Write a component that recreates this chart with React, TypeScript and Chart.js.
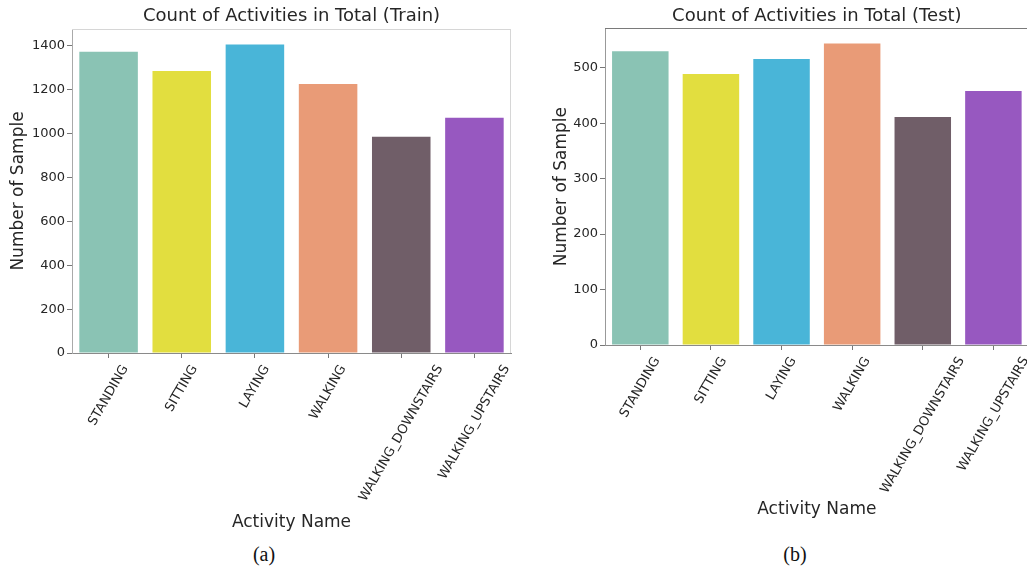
import React, { useEffect, useRef } from "react";
import { Chart, registerables } from "chart.js";

Chart.register(...registerables);

const categories = [
  "STANDING",
  "SITTING",
  "LAYING",
  "WALKING",
  "WALKING_DOWNSTAIRS",
  "WALKING_UPSTAIRS",
];
const trainCounts = [1374, 1286, 1407, 1226, 986, 1073];
const testCounts = [530, 489, 516, 544, 411, 458];
const barColors = ["#8AC3B4", "#E2DE3F", "#49B5D8", "#E99B77", "#705E68", "#9758C0"];
const trainTitle = "Count of Activities in Total (Train)";
const testTitle = "Count of Activities in Total (Test)";
const xAxisLabel = "Activity Name";
const yAxisLabel = "Number of Sample";
const trainTickStep = 200;
const testTickStep = 100;
const captions = ["(a)", "(b)"];

const FONT = "'DejaVu Sans', sans-serif";
const TEXT = "#262626";

type PanelCfg = {
  left: number;
  width: number;
  height: number;
  values: number[];
  title: string;
  step: number;
  yWidth: number;
  xHeight: number;
  padRight: number;
  titlePadTop: number;
  titlePadBottom: number;
  yTitlePad: number;
  xTitlePad: number;
  topColor: string;
  rightColor: string;
  leftColor: string;
  bottomColor: string;
};

const extrasPlugin = {
  id: "panelExtras",
  afterDraw(chart: any, _args: any, opts: any) {
    const { ctx, chartArea, scales } = chart;
    const xs = scales.x;
    ctx.save();
    // top and right spines
    ctx.lineWidth = 1;
    ctx.strokeStyle = opts.topColor;
    const t = Math.round(chartArea.top) + 0.5;
    const r = Math.round(chartArea.right) - 0.5;
    ctx.beginPath();
    ctx.moveTo(chartArea.left, t);
    ctx.lineTo(chartArea.right, t);
    ctx.stroke();
    ctx.strokeStyle = opts.rightColor;
    ctx.beginPath();
    ctx.moveTo(r, chartArea.top);
    ctx.lineTo(r, chartArea.bottom);
    ctx.stroke();
    // rotated category labels (centered like matplotlib)
    ctx.font = "13px " + FONT;
    ctx.fillStyle = TEXT;
    const ang = (60 * Math.PI) / 180;
    const h = 13 * 1.15;
    const y0 = chartArea.bottom + 9.5;
    const labels: string[] = chart.data.labels;
    labels.forEach((lab, i) => {
      const x = xs.getPixelForValue(i);
      const L = ctx.measureText(lab).width;
      const bh = L * Math.sin(ang) + h * Math.cos(ang);
      ctx.save();
      ctx.translate(x, y0 + bh / 2);
      ctx.rotate(-ang);
      ctx.textAlign = "center";
      ctx.textBaseline = "middle";
      ctx.fillText(lab, 0, 0);
      ctx.restore();
    });
    ctx.restore();
  },
};

function Panel({ cfg }: { cfg: PanelCfg }) {
  const ref = useRef<HTMLCanvasElement>(null);
  useEffect(() => {
    const yMax = Math.max(...cfg.values) * 1.05;
    const chart = new Chart(ref.current as HTMLCanvasElement, {
      type: "bar",
      data: {
        labels: categories,
        datasets: [
          {
            data: cfg.values,
            backgroundColor: barColors,
            borderWidth: 0,
            barPercentage: 0.8,
            categoryPercentage: 1,
          },
        ],
      },
      plugins: [extrasPlugin],
      options: {
        animation: false,
        responsive: false,
        maintainAspectRatio: false,
        devicePixelRatio: 1,
        layout: { padding: { left: 0, top: 0, bottom: 0, right: cfg.padRight } },
        plugins: {
          legend: { display: false },
          tooltip: { enabled: false },
          title: {
            display: true,
            text: cfg.title,
            fullSize: false,
            color: TEXT,
            font: { family: FONT, size: 18, weight: "normal" },
            padding: { top: cfg.titlePadTop, bottom: cfg.titlePadBottom },
          },
          panelExtras: {
            topColor: cfg.topColor,
            rightColor: cfg.rightColor,
          },
        } as any,
        scales: {
          x: {
            type: "category",
            offset: true,
            grid: {
              offset: false,
              display: true,
              drawOnChartArea: false,
              drawTicks: true,
              tickLength: 5,
              color: "#777",
            },
            border: { display: true, color: cfg.bottomColor, width: 1 },
            ticks: { display: false },
            title: {
              display: true,
              text: xAxisLabel,
              color: TEXT,
              font: { family: FONT, size: 17, weight: "normal" },
              padding: { top: 0, bottom: cfg.xTitlePad },
            },
            afterFit: (scale: any) => {
              scale.height = cfg.xHeight;
            },
          },
          y: {
            type: "linear",
            min: 0,
            max: yMax,
            grid: {
              display: true,
              drawOnChartArea: false,
              drawTicks: true,
              tickLength: 5,
              color: "#777",
            },
            border: { display: true, color: cfg.leftColor, width: 1 },
            ticks: {
              stepSize: cfg.step,
              includeBounds: false,
              padding: 2,
              color: TEXT,
              font: { family: FONT, size: 13 },
              callback: (v: any) => String(v),
            },
            title: {
              display: true,
              text: yAxisLabel,
              color: TEXT,
              font: { family: FONT, size: 17, weight: "normal" },
              padding: { top: cfg.yTitlePad, bottom: 0 },
            },
            afterFit: (scale: any) => {
              scale.width = cfg.yWidth;
            },
          },
        },
      } as any,
    });
    return () => chart.destroy();
  }, []);
  return (
    <canvas
      ref={ref}
      width={cfg.width}
      height={cfg.height}
      style={{
        position: "absolute",
        left: cfg.left,
        top: 0,
        width: cfg.width,
        height: cfg.height,
        display: "block",
      }}
    />
  );
}

const trainPanel: PanelCfg = {
  left: 0,
  width: 520,
  height: 540,
  values: trainCounts,
  title: trainTitle,
  step: trainTickStep,
  yWidth: 72,
  xHeight: 187,
  padRight: 9,
  titlePadTop: 6,
  titlePadBottom: 1.4,
  yTitlePad: 8,
  xTitlePad: 7,
  topColor: "#d6d6d6",
  rightColor: "#d6d6d6",
  leftColor: "#aaaaaa",
  bottomColor: "#8a8a8a",
};

const testPanel: PanelCfg = {
  left: 520,
  width: 520,
  height: 540,
  values: testCounts,
  title: testTitle,
  step: testTickStep,
  yWidth: 85,
  xHeight: 195,
  padRight: 11.3,
  titlePadTop: 6,
  titlePadBottom: 0.7,
  yTitlePad: 31.5,
  xTitlePad: 19.8,
  topColor: "#7a7a7a",
  rightColor: "#7a7a7a",
  leftColor: "#999999",
  bottomColor: "#8a8a8a",
};

export default function App() {
  const capStyle = (cx: number): React.CSSProperties => ({
    position: "absolute",
    left: cx - 40,
    width: 80,
    top: 542,
    textAlign: "center",
    fontFamily: "'Liberation Serif', 'Times New Roman', serif",
    fontSize: 20,
    lineHeight: "24px",
    color: "#111",
  });
  return (
    <div
      style={{
        position: "absolute",
        left: 0,
        top: 0,
        width: 1027,
        height: 570,
        overflow: "hidden",
        background: "#fff",
      }}
    >
      <Panel cfg={trainPanel} />
      <Panel cfg={testPanel} />
      <div style={capStyle(264)}>{captions[0]}</div>
      <div style={capStyle(795)}>{captions[1]}</div>
    </div>
  );
}
